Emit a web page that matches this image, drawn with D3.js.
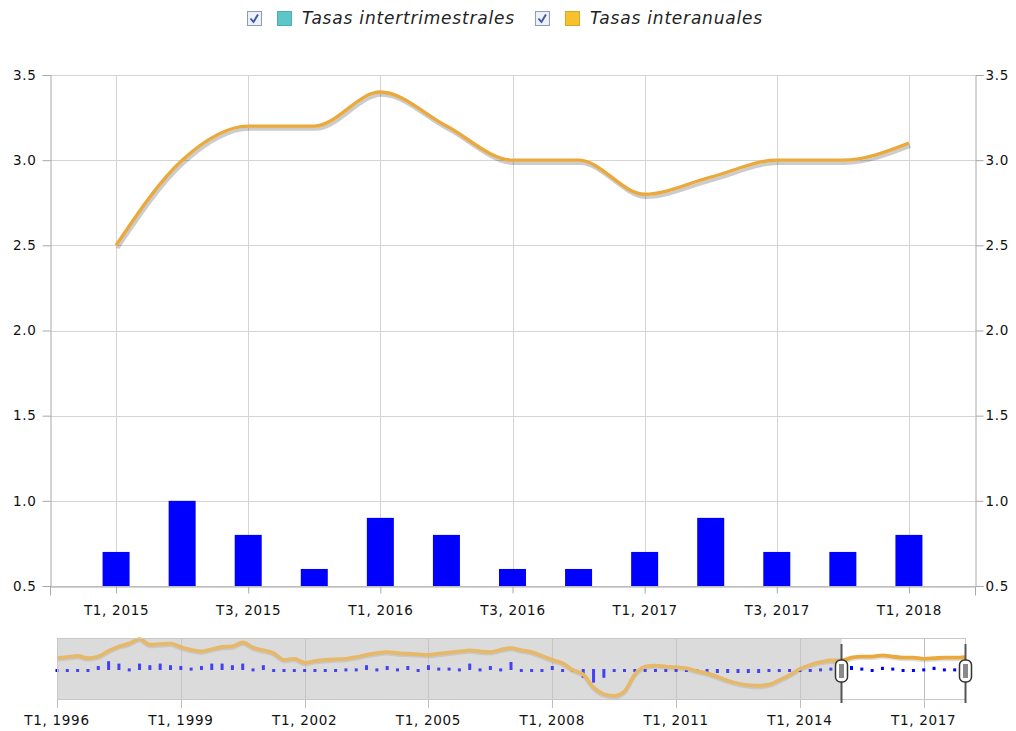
<!DOCTYPE html>
<html>
<head>
<meta charset="utf-8">
<script src="https://cdn.jsdelivr.net/npm/d3@7"></script>
<style>
    body { margin: 0; background: #fff; }
    text { font-family: 'DejaVu Sans', Verdana, sans-serif; fill: #222; }
</style>
</head>
<body>
<div id="chart"></div>
<script>
// visible window: T1 2015 .. T1 2018
const categories = ['T1, 2015', 'T2, 2015', 'T3, 2015', 'T4, 2015', 'T1, 2016', 'T2, 2016', 'T3, 2016',
    'T4, 2016', 'T1, 2017', 'T2, 2017', 'T3, 2017', 'T4, 2017', 'T1, 2018'];
const intertrimestral = [0.7, 1.0, 0.8, 0.6, 0.9, 0.8, 0.6, 0.6, 0.7, 0.9, 0.7, 0.7, 0.8];
const interanual = [2.5, 3.0, 3.2, 3.2, 3.4, 3.2, 3.0, 3.0, 2.8, 2.9, 3.0, 3.0, 3.1];
const yTicks = [0.5, 1.0, 1.5, 2.0, 2.5, 3.0, 3.5];

// navigator history, T1 1996 .. T4 2014
const histInteranual = [2.9, 3.1, 3.3, 2.9, 3.2, 4.2, 5.0, 5.5, 6.3, 5.3, 5.4, 5.5, 4.9, 4.4, 4.1, 4.5,
    4.9, 5.0, 5.7, 4.8, 4.3, 3.8, 2.6, 2.8, 2.1, 2.4, 2.6, 2.7, 2.8, 3.1, 3.5, 3.8,
    4.0, 3.8, 3.7, 3.6, 3.5, 3.7, 3.9, 4.1, 4.3, 4.1, 4.0, 4.4, 4.7, 4.3, 4.0, 3.3,
    2.6, 2.0, 0.8, 0.0, -2.3, -3.5, -3.8, -3.0, 0.0, 1.4, 1.6, 1.4, 1.3, 1.1, 0.6, 0.2,
    -0.4, -1.1, -1.6, -1.9, -2.0, -1.8, -1.0, -0.1, 1.0, 1.7, 2.2, 2.5];
const histIntertrimestral = [0.6, 0.6, 0.6, 0.6, 1.0, 1.6, 1.3, 0.7, 1.3, 1.1, 1.3, 1.1, 1.0, 0.8, 1.0, 1.3,
    1.3, 1.1, 1.3, 0.7, 1.1, 0.5, 0.6, 0.6, 0.6, 0.6, 0.6, 0.6, 0.7, 0.7, 1.1, 0.7,
    1.0, 0.7, 1.0, 0.6, 1.1, 0.8, 0.8, 0.7, 1.3, 0.7, 1.0, 0.7, 1.5, 0.6, 0.6, 0.6,
    1.0, 0.4, 0.3, -0.6, -1.2, -0.6, 0.3, 0.6, 0.5, 0.6, 0.4, 0.4, 0.3, 0.3, 0.2, 0.2,
    0.0, 0.0, 0.0, 0.0, 0.0, 0.4, 0.4, 0.5, 0.6, 0.6, 0.7, 0.8];
const navTickLabels = ['T1, 1996', 'T1, 1999', 'T1, 2002', 'T1, 2005', 'T1, 2008', 'T1, 2011', 'T1, 2014', 'T1, 2017'];

const legendItems = [
    {name: 'Tasas intertrimestrales', color: '#5cc6c9'},
    {name: 'Tasas interanuales', color: '#f5c22e'}
];

const barColor = '#0000ff';
const lineColor = '#eaa93a';
const gridColor = '#d4d4d4';
const axisColor = '#a8a8a8';

const width = 1016, height = 731;
const plot = {left: 50, right: 975, top: 75, bottom: 586};
const nav = {left: 57, right: 965, top: 638, bottom: 699};

let navQuarters = [];
for (let y = 1996; y <= 2018; ++y) {
    for (let q = 1; q <= 4; ++q) {
        if (y === 2018 && q > 1) break;
        navQuarters.push(`T${q}, ${y}`);
    }
}
const navInteranual = histInteranual.concat(interanual);
const navIntertrimestral = histIntertrimestral.concat(intertrimestral);

const svg = d3.select('#chart').append('svg')
    .attr('width', width)
    .attr('height', height);

function styleLabels(sel) {
    sel.style('font-size', '13.5px')
        .style('letter-spacing', '0.7px')
        .style('fill', '#111');
}

// ---------- main plot ----------
const x = d3.scalePoint()
    .domain(categories)
    .range([plot.left, plot.right])
    .padding(1);
const y = d3.scaleLinear()
    .domain([0.5, 3.5])
    .range([plot.bottom, plot.top]);

const labelled = categories.filter((d, i) => i % 2 === 0);

const grid = svg.append('g').attr('class', 'grid');
grid.selectAll('.hgrid')
    .data(yTicks)
    .enter().append('line')
    .attr('class', 'hgrid')
    .attr('x1', plot.left)
    .attr('x2', plot.right)
    .attr('y1', d => Math.round(y(d)) + 0.5)
    .attr('y2', d => Math.round(y(d)) + 0.5)
    .style('stroke', gridColor);
grid.selectAll('.vgrid')
    .data(labelled)
    .enter().append('line')
    .attr('class', 'vgrid')
    .attr('x1', d => Math.round(x(d)) + 0.5)
    .attr('x2', d => Math.round(x(d)) + 0.5)
    .attr('y1', plot.top)
    .attr('y2', plot.bottom)
    .style('stroke', gridColor);

const leftAxis = svg.append('g')
    .attr('transform', `translate(${plot.left + 0.5},0)`)
    .call(d3.axisLeft(y).tickValues(yTicks).tickFormat(d3.format('.1f')).tickSize(8).tickPadding(6));
const rightAxis = svg.append('g')
    .attr('transform', `translate(${plot.right + 0.5},0)`)
    .call(d3.axisRight(y).tickValues(yTicks).tickFormat(d3.format('.1f')).tickSize(8).tickPadding(2));
const bottomAxis = svg.append('g')
    .attr('transform', `translate(0,${Math.round(y(0.5)) + 0.5})`)
    .call(d3.axisBottom(x).tickValues(labelled).tickSize(7).tickPadding(12).tickSizeOuter(9));

[leftAxis, rightAxis, bottomAxis].forEach(a => {
    a.selectAll('path, line').style('stroke', axisColor);
    a.selectAll('text').call(styleLabels);
});

// bars
svg.append('g').selectAll('.bar')
    .data(intertrimestral)
    .enter().append('rect')
    .attr('class', 'bar')
    .attr('x', (d, i) => x(categories[i]) - 13.5)
    .attr('width', 27)
    .attr('y', d => y(d))
    .attr('height', d => y(0.5) - y(d))
    .style('fill', barColor);

// line with soft shadow
const line = d3.line()
    .x((d, i) => x(categories[i]))
    .y(d => y(d))
    .curve(d3.curveMonotoneX);
svg.append('path')
    .datum(interanual)
    .attr('d', line)
    .attr('transform', 'translate(1.5,3)')
    .style('fill', 'none')
    .style('stroke', 'rgba(0,0,0,0.2)')
    .style('stroke-width', 3.5);
svg.append('path')
    .datum(interanual)
    .attr('d', line)
    .style('fill', 'none')
    .style('stroke', lineColor)
    .style('stroke-width', 3.4)
    .style('stroke-linejoin', 'round');

// ---------- legend ----------
const legend = svg.append('g').attr('class', 'legend');
let lx = 247;
legendItems.forEach(item => {
    let g = legend.append('g').attr('transform', `translate(${lx},11)`);
    g.append('rect')
        .attr('x', 0.5).attr('y', 0.5)
        .attr('width', 14).attr('height', 14)
        .style('fill', '#eef1f6')
        .style('stroke', '#8e9bb0');
    g.append('path')
        .attr('d', 'M3.5,7.5 L6.5,11 L11,3.5')
        .style('fill', 'none')
        .style('stroke', '#3a5a9e')
        .style('stroke-width', 1.9);
    g.append('rect')
        .attr('x', 30.5).attr('y', 0.5)
        .attr('width', 14).attr('height', 14)
        .style('fill', item.color)
        .style('stroke', d3.color(item.color).darker(0.4));
    let t = g.append('text')
        .attr('x', 55)
        .attr('y', 13)
        .style('font-size', '17px')
        .style('letter-spacing', '0.8px')
        .style('font-style', 'italic')
        .style('fill', '#222')
        .text(item.name);
    lx += 55 + t.node().getComputedTextLength() + 20;
});

// ---------- navigator ----------
const nx = d3.scalePoint()
    .domain(navQuarters)
    .range([nav.left, nav.right]);
const nyLine = d3.scaleLinear()
    .domain([-4, 6.5])
    .range([697, 638]);
const nyBar = d3.scaleLinear()
    .domain([0.5, 1.5])
    .range([670, 662]);

const selStart = nx(categories[0]);
const selEnd = nx(categories[categories.length - 1]);

const navG = svg.append('g').attr('class', 'navigator');
navG.append('rect')
    .attr('x', nav.left + 0.5).attr('y', nav.top + 0.5)
    .attr('width', nav.right - nav.left).attr('height', nav.bottom - nav.top)
    .style('fill', '#fff');
navG.append('rect')
    .attr('x', nav.left + 0.5).attr('y', nav.top + 0.5)
    .attr('width', selStart - nav.left).attr('height', nav.bottom - nav.top)
    .style('fill', '#dcdcdc');

const navTicks = navTickLabels.map(d => nx(d));
navG.selectAll('.ngrid')
    .data(navTicks)
    .enter().append('line')
    .attr('class', 'ngrid')
    .attr('x1', d => Math.round(d) + 0.5)
    .attr('x2', d => Math.round(d) + 0.5)
    .attr('y1', nav.top)
    .attr('y2', nav.bottom + 9)
    .style('stroke', '#bdbdbd');

navG.selectAll('.nbar')
    .data(navIntertrimestral)
    .enter().append('rect')
    .attr('class', 'nbar')
    .attr('x', (d, i) => nx(navQuarters[i]) - 1.5)
    .attr('width', 3)
    .attr('y', d => Math.min(nyBar(d), nyBar(0.5) - 1))
    .attr('height', d => Math.max(3, Math.abs(nyBar(0.5) - nyBar(d))))
    .style('fill', barColor);

const navLine = d3.line()
    .x((d, i) => nx(navQuarters[i]))
    .y(d => nyLine(d))
    .curve(d3.curveMonotoneX);
navG.append('path')
    .datum(navInteranual)
    .attr('d', navLine)
    .attr('transform', 'translate(0,1.5)')
    .style('fill', 'none')
    .style('stroke', 'rgba(0,0,0,0.12)')
    .style('stroke-width', 4);
navG.append('path')
    .datum(navInteranual)
    .attr('d', navLine)
    .style('fill', 'none')
    .style('stroke', lineColor)
    .style('stroke-width', 3.8);

// fade out the part of the series outside the window
navG.append('rect')
    .attr('x', nav.left + 0.5).attr('y', nav.top + 0.5)
    .attr('width', selStart - nav.left).attr('height', nav.bottom - nav.top)
    .style('fill', 'rgba(220,220,220,0.3)');
navG.append('rect')
    .attr('x', nav.left + 0.5).attr('y', nav.top + 0.5)
    .attr('width', nav.right - nav.left).attr('height', nav.bottom - nav.top)
    .style('fill', 'none')
    .style('stroke', '#c8c8c8');

navG.selectAll('.nlabel')
    .data(navTickLabels)
    .enter().append('text')
    .attr('class', 'nlabel')
    .attr('x', d => nx(d))
    .attr('y', 725)
    .attr('text-anchor', 'middle')
    .call(styleLabels)
    .text(d => d);

// window handles
[selStart, selEnd].forEach(hx => {
    let h = navG.append('g').attr('transform', `translate(${Math.round(hx) + 0.5},0)`);
    h.append('line')
        .attr('y1', 644).attr('y2', 703)
        .style('stroke', '#555')
        .style('stroke-width', 2);
    h.append('rect')
        .attr('x', -6).attr('y', 660)
        .attr('width', 12).attr('height', 22)
        .attr('rx', 5)
        .style('fill', '#fff')
        .style('stroke', '#333')
        .style('stroke-width', 1.5);
    h.append('rect')
        .attr('x', -2.5).attr('y', 664)
        .attr('width', 5).attr('height', 14)
        .style('fill', '#8a8a8a');
});
</script>
</body>
</html>
